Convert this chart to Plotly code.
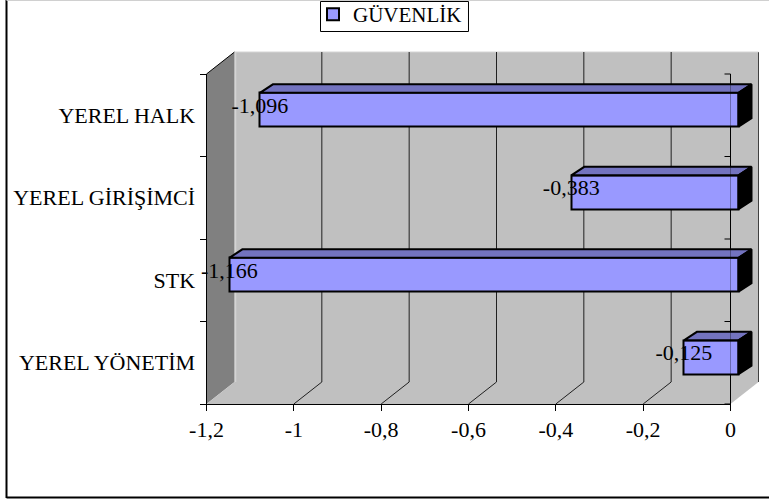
import plotly.graph_objects as go

categories = ["YEREL YÖNETİM", "STK", "YEREL GİRİŞİMCİ", "YEREL HALK"]
values = [-0.125, -1.166, -0.383, -1.096]
labels = ["-0,125", "-1,166", "-0,383", "-1,096"]
series_name = "GÜVENLİK"
x_ticks = [-1.2, -1, -0.8, -0.6, -0.4, -0.2, 0]
x_tick_labels = ["-1,2", "-1", "-0,8", "-0,6", "-0,4", "-0,2", "0"]

W, H = 769, 499
FONT = "Liberation Serif"
FS = 22
BAR_FILL, BAR_TOP, BAR_SIDE = "#9999FF", "#7373BF", "#000000"
WALL, SIDE_WALL = "#C0C0C0", "#808080"

# plot frame of the front plane, in pixels
L, R, T, B = 206.5, 730.5, 74.0, 404.0
# depth of the back wall and of the mid-depth plane the bars stand in
DX, DY = 28.0, 22.0
BX, BY = 8.0, 5.5
# thickness of a bar along the depth, in pixels
PX, PY = 13.0, 8.5
BAR_W = 0.41
X2_EXTRA = PX + 4


def fx(px):
    return px / W


def fy(py):
    return 1 - py / H


def poly(points, fill=None, line=None, width=1, layer="below"):
    path = "M" + "L".join(f"{fx(a):.5f},{fy(b):.5f}" for a, b in points) + "Z"
    return dict(type="path", xref="paper", yref="paper", path=path,
                fillcolor=fill or "rgba(0,0,0,0)",
                line=dict(color=line or "rgba(0,0,0,0)", width=width), layer=layer)


def seg(a, b, color="#000000", width=1, layer="below"):
    return dict(type="line", xref="paper", yref="paper", x0=fx(a[0]), y0=fy(a[1]),
                x1=fx(b[0]), y1=fy(b[1]), line=dict(color=color, width=width), layer=layer)


shapes = [
    poly([(L + DX, T - DY), (R + DX, T - DY), (R + DX, B - DY), (L + DX, B - DY)], WALL),
    poly([(L, T), (L + DX, T - DY), (L + DX, B - DY), (L, B)], SIDE_WALL),
    poly([(L, B), (L + DX, B - DY), (R + DX, B - DY), (R, B)], WALL),
    seg((L, T), (L + DX, T - DY)),
    seg((L + DX + 1, T - DY), (L + DX + 1, B - DY), "#D4D4D4", 1.5),
    seg((R + DX, T - DY), (R + DX, B - DY), "#404040", 1),
    seg((L + DX, T - DY), (R + DX, T - DY), "#D4D4D4", 1),
    seg((R, T), (R, B), "#000000", 1),
    # outer chart frame
    seg((6.5, 0), (6.5, H - 1), "#000000", 2, "above"),
    seg((6.5, H - 1.5), (W, H - 1.5), "#000000", 2, "above"),
    seg((6.5, 0.5), (W, 0.5), "#D0D0D0", 1, "above"),
    # legend box
    poly([(320.5, 1.5), (468.5, 1.5), (468.5, 31.5), (320.5, 31.5)], None, "#000000", 1, "above"),
    # axis line seen through the bars
    seg((R, T), (R, B), "rgba(0,0,0,0.3)", 1, "above"),
]
scale = (R - L) / 1.2
for v in x_ticks[1:-1]:
    p = R + v * scale
    shapes.append(seg((p + DX, T - DY), (p + DX, B - DY), "#202020"))
    shapes.append(seg((p, B), (p + DX, B - DY), "#202020"))
band = (B - T) / len(categories)
for i in range(len(categories) + 1):
    shapes.append(seg((R - 6, T + i * band), (R, T + i * band)))

dx_val = PX / scale
dy_val = PY / band

fig = go.Figure()
# top and end faces of each bar, drawn from its value and category index
for i, v in enumerate(values):
    lo, hi = i - BAR_W / 2, i + BAR_W / 2
    fig.add_trace(go.Scatter(
        x=[v, v + dx_val, dx_val, 0, v], y=[hi, hi + dy_val, hi + dy_val, hi, hi],
        mode="lines", fill="toself", fillcolor=BAR_TOP, line=dict(color="black", width=2),
        xaxis="x2", yaxis="y2", showlegend=False, hoverinfo="skip", cliponaxis=False))
    fig.add_trace(go.Scatter(
        x=[0, dx_val, dx_val, 0, 0], y=[lo, lo + dy_val, hi + dy_val, hi, lo],
        mode="lines", fill="toself", fillcolor=BAR_SIDE, line=dict(color="black", width=2),
        xaxis="x2", yaxis="y2", showlegend=False, hoverinfo="skip", cliponaxis=False))

fig.add_trace(go.Bar(
    x=values, y=list(range(len(categories))), orientation="h", width=BAR_W, name=series_name,
    marker=dict(color=BAR_FILL, line=dict(color="black", width=2)),
    xaxis="x2", yaxis="y2", showlegend=True, cliponaxis=False))
fig.add_trace(go.Scatter(
    x=values, y=[i + 0.03 for i in range(len(categories))], text=labels, mode="text",
    textposition="middle center", textfont=dict(family=FONT, size=FS, color="black"),
    xaxis="x2", yaxis="y2", showlegend=False, hoverinfo="skip", cliponaxis=False))
# carries the category axis with its labels
fig.add_trace(go.Scatter(x=[0] * len(categories), y=categories, mode="markers",
                         marker=dict(opacity=0), showlegend=False, hoverinfo="skip"))

fig.update_layout(
    width=W, height=H, margin=dict(l=0, r=0, t=0, b=0, autoexpand=False),
    paper_bgcolor="white", plot_bgcolor="rgba(0,0,0,0)",
    font=dict(family=FONT, size=FS, color="black"), shapes=shapes,
    bargap=0,
    legend=dict(x=fx(313), y=fy(-6), xanchor="left", yanchor="top", bgcolor="rgba(0,0,0,0)",
                borderwidth=0, font=dict(family=FONT, size=21)),
    xaxis=dict(domain=[fx(L), fx(R)], range=[-1.2, 0], tickvals=x_ticks, ticktext=x_tick_labels,
               anchor="y", ticks="outside", ticklen=6, tickcolor="black", showline=True,
               linecolor="black", showgrid=False, zeroline=False),
    yaxis=dict(domain=[fy(B), fy(T)], type="category", categoryorder="array", categoryarray=categories,
               range=[-0.5, 3.5], anchor="x", ticks="outside", ticklen=6, tickcolor="black", tickson="boundaries",
               showline=True, linecolor="black", showgrid=False, zeroline=False, ticklabelstandoff=6),
    xaxis2=dict(domain=[fx(L + BX), fx(R + BX + X2_EXTRA)], range=[-1.2, X2_EXTRA / scale], anchor="y2", visible=False),
    yaxis2=dict(domain=[fy(B - BY), fy(T - BY)], range=[-0.5, 3.5], anchor="x2", visible=False),
)
fig.write_html("out.html", config={"displayModeBar": False},
               post_script="document.body.style.margin='0';document.body.style.overflow='hidden';")
